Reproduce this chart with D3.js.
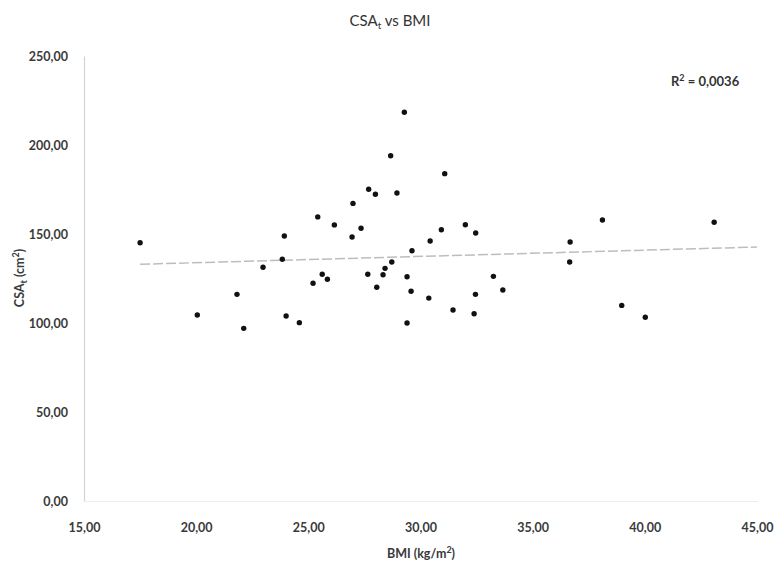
<!DOCTYPE html>
<html>
<head>
<meta charset="utf-8">
<script src="https://cdn.jsdelivr.net/npm/d3@7"></script>
<style>
  html, body { margin: 0; padding: 0; background: #fff; }
  svg { display: block; }
  text { font-family: Lato, "Open Sans", "Liberation Sans", sans-serif; }
</style>
</head>
<body>
<svg id="chart" width="777" height="570"></svg>
<script>
// ---- data ----
const bmi = [17.50, 25.42, 26.16, 23.93, 23.84, 22.98, 25.62, 25.85, 25.21, 21.82, 20.05, 24.01,
  24.60, 22.12, 29.28, 28.67, 31.08, 27.69, 27.99, 28.95, 26.99, 27.35, 26.95, 30.93,
  32.00, 32.46, 30.43, 29.62, 28.72, 28.42, 27.65, 28.33, 29.40, 28.05, 29.58, 30.37,
  32.45, 33.25, 33.67, 31.45, 32.39, 29.40, 36.67, 36.65, 38.11, 43.09, 38.97, 40.02];
const csa = [145.1, 159.6, 155.1, 148.9, 135.8, 131.3, 127.4, 124.6, 122.3, 116.1, 104.5, 103.9,
  100.2, 97.0, 218.4, 194.0, 183.9, 175.1, 172.3, 173.0, 167.2, 153.2, 148.3, 152.4,
  155.2, 150.6, 146.1, 140.6, 134.3, 130.7, 127.4, 127.1, 126.0, 120.1, 117.8, 114.0,
  116.1, 126.2, 118.5, 107.3, 105.2, 100.0, 145.5, 134.3, 157.9, 156.6, 109.9, 103.2];
const xTicks = [15, 20, 25, 30, 35, 40, 45];
const yTicks = [0, 50, 100, 150, 200, 250];
const rSquaredLabel = "0,0036";

// ---- layout ----
const svg = d3.select("#chart");
const x = d3.scaleLinear().domain([15, 45]).range([84, 757]);
const y = d3.scaleLinear().domain([0, 250]).range([501, 56]);
const fmt = v => d3.format(".2f")(v).replace(".", ",");

// axes
const yAxis = svg.append("g").attr("transform", `translate(${x(15)},0)`)
  .call(d3.axisLeft(y).tickValues(yTicks).tickSize(0).tickPadding(16).tickFormat(fmt));
yAxis.select(".domain").attr("stroke", "#d4d4d4").attr("stroke-width", 1.2);
yAxis.selectAll("text").attr("fill", "#3a3a3a").attr("font-size", 12.5).attr("font-weight", "bold");

const xAxis = svg.append("g").attr("transform", `translate(0,${y(0)})`)
  .call(d3.axisBottom(x).tickValues(xTicks).tickSize(0).tickPadding(22).tickFormat(fmt));
xAxis.select(".domain").attr("stroke", "#ececec").attr("stroke-width", 1.2);
xAxis.selectAll("text").attr("fill", "#3a3a3a").attr("font-size", 12.5).attr("font-weight", "bold");

// trendline (least squares)
const n = bmi.length;
const mx = d3.mean(bmi), my = d3.mean(csa);
let sxy = 0, sxx = 0;
for (let i = 0; i < n; i++) { sxy += (bmi[i] - mx) * (csa[i] - my); sxx += (bmi[i] - mx) ** 2; }
const slope = sxy / sxx, intercept = my - slope * mx;
const tx = [d3.min(bmi), 45];
svg.append("line")
  .attr("x1", x(tx[0])).attr("y1", y(intercept + slope * tx[0]))
  .attr("x2", x(tx[1])).attr("y2", y(intercept + slope * tx[1]))
  .attr("stroke", "#bdbdbd").attr("stroke-width", 1.5).attr("stroke-dasharray", "10,3");

// points
svg.append("g").selectAll("circle").data(bmi.map((b, i) => [b, csa[i]])).join("circle")
  .attr("cx", d => x(d[0])).attr("cy", d => y(d[1])).attr("r", 2.7).attr("fill", "#111");

// title
const title = svg.append("text").attr("x", 390).attr("y", 26).attr("text-anchor", "middle")
  .attr("font-size", 15).attr("fill", "#333");
title.append("tspan").text("CSA");
title.append("tspan").attr("font-size", 10).attr("dy", 3).text("t");
title.append("tspan").attr("dy", -3).text(" vs BMI");

// y label
const yl = svg.append("text").attr("transform", "translate(24,278) rotate(-90)")
  .attr("text-anchor", "middle").attr("font-size", 12.5).attr("font-weight", "bold").attr("fill", "#3a3a3a");
yl.append("tspan").text("CSA");
yl.append("tspan").attr("font-size", 9).attr("dy", 3).text("t");
yl.append("tspan").attr("dy", -3).text(" (cm");
yl.append("tspan").attr("font-size", 9).attr("dy", -5).text("2");
yl.append("tspan").attr("dy", 5).text(")");

// x label
const xl = svg.append("text").attr("x", 421).attr("y", 558).attr("text-anchor", "middle")
  .attr("font-size", 12.5).attr("font-weight", "bold").attr("fill", "#3a3a3a");
xl.append("tspan").text("BMI (kg/m");
xl.append("tspan").attr("font-size", 9).attr("dy", -5).text("2");
xl.append("tspan").attr("dy", 5).text(")");

// R squared
const rl = svg.append("text").attr("x", 671).attr("y", 86)
  .attr("font-size", 13).attr("font-weight", "bold").attr("fill", "#333");
rl.append("tspan").text("R");
rl.append("tspan").attr("font-size", 9).attr("dy", -5).text("2");
rl.append("tspan").attr("dy", 5).text(" = " + rSquaredLabel);
</script>
</body>
</html>
